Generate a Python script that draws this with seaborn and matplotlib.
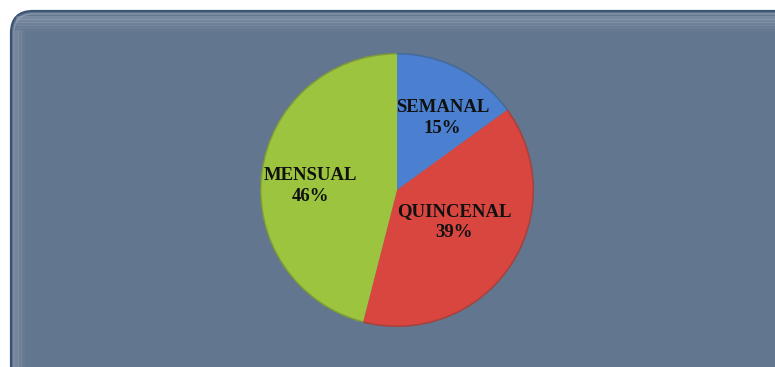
import matplotlib
matplotlib.use("Agg")
import matplotlib.pyplot as plt
from matplotlib.patches import FancyBboxPatch, Circle
import numpy as np
import seaborn as sns

categorias = ["SEMANAL", "QUINCENAL", "MENSUAL"]
porcentajes = [15, 39, 46]
colores = ["#4a80cf", "#d8463f", "#9cc43f"]
# label placement (radial distance, angular shift in degrees)
distancias = [0.62, 0.48, 0.63]
desvios = [-5.5, 5.0, 4.5]

sns.set_theme(style="white")
plt.rcParams["font.family"] = ["Liberation Serif", "DejaVu Serif"]

W, H = 775, 367
fig = plt.figure(figsize=(W / 100, H / 100), dpi=100)
fig.patch.set_facecolor("white")

# rounded panel behind the chart
bg = fig.add_axes([0, 0, 1, 1])
bg.set_xlim(0, W)
bg.set_ylim(H, 0)
bg.axis("off")
panel = FancyBboxPatch((11, 11), W + 40, H + 40,
                       boxstyle="round,pad=0,rounding_size=22",
                       facecolor="#62768f", edgecolor="#3b5474", linewidth=1.6)
bg.add_patch(panel)
inner = FancyBboxPatch((14, 14), W + 40, H + 40,
                       boxstyle="round,pad=0,rounding_size=19",
                       facecolor="none", edgecolor="#8797aa", linewidth=1.0)
bg.add_patch(inner)
for i, a in enumerate([0.35, 0.28, 0.20, 0.12, 0.06]):
    band = FancyBboxPatch((16, 16 + i * 3), W + 40, 4,
                          boxstyle="round,pad=0,rounding_size=2",
                          facecolor="#a3b0bf", edgecolor="none", alpha=a)
    bg.add_patch(band)
for i, a in enumerate([0.30, 0.20, 0.10]):
    side = FancyBboxPatch((15 + i * 3, 30), 4, H,
                          boxstyle="round,pad=0,rounding_size=2",
                          facecolor="#a3b0bf", edgecolor="none", alpha=a)
    bg.add_patch(side)

# pie
cx, cy, r = 397, 190, 137
ax = fig.add_axes([(cx - r) / W, (H - cy - r) / H, 2 * r / W, 2 * r / H])

wedges, _ = ax.pie(porcentajes, colors=colores, startangle=90, counterclock=False,
                   radius=1, wedgeprops=dict(edgecolor="none"))
ax.add_patch(Circle((0, 0), 0.995, facecolor="none", edgecolor="#3a3a3a",
                    linewidth=1.2, alpha=0.3))
ax.set_xlim(-1, 1)
ax.set_ylim(-1, 1)
ax.set_aspect("equal")
ax.axis("off")

for w, cat, p, d, dv in zip(wedges, categorias, porcentajes, distancias, desvios):
    ang = np.deg2rad((w.theta1 + w.theta2) / 2 + dv)
    ax.text(d * np.cos(ang), d * np.sin(ang), f"{cat}\n{p}%",
            ha="center", va="center", fontsize=13.5, fontweight="bold",
            color="#111111", linespacing=1.3)

fig.savefig("out.png", dpi=100, facecolor="white")
